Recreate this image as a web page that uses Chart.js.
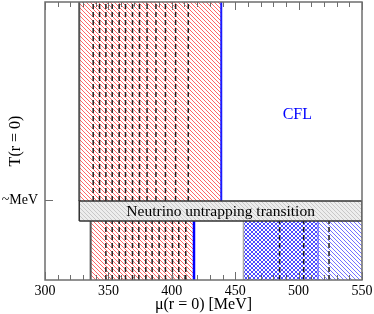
<!DOCTYPE html>
<html>
<head>
<meta charset="utf-8">
<script src="https://cdn.jsdelivr.net/npm/chart.js@4"></script>
<style>
  body { margin: 0; background: #fff; }
  #wrap { width: 374px; height: 314px; }
</style>
</head>
<body>
<div id="wrap"><canvas id="phaseChart" width="374" height="314"></canvas></div>
<script>
// axis ranges
const muRange = [300, 550];
const tRange = [0, 10];
const mevT = 2.88;

// regions (mu in MeV, T in arbitrary units)
const upperRedMu = [327, 439];
const lowerRedMu = [336, 417.5];
const blueCrossMu = [456.5, 515.5];
const blueHatchMu = [515.5, 550];
const untrapMu = [327, 550];
const untrapT = [2.12, 2.84];

// dashed lines
const upperDashMu = [338, 343, 348, 353, 358.5, 363.5, 369, 374.5, 380.5, 387.5, 395, 403, 413];
const lowerDashMu = [348, 353, 358.5, 363.5, 369, 374, 379.5, 384.5, 390, 395, 400.5, 405.5, 411];
const blueDashMu = [485, 504, 524];

// labels
const cflPos = [499, 5.94];
const untrapLabel = 'Neutrino untrapping transition';

const serif = "'Liberation Serif', 'DejaVu Serif', serif";

function hatch(color, bg, size, width, cross){
    const c = document.createElement('canvas');
    c.width = size; c.height = size;
    const g = c.getContext('2d');
    if(bg){ g.fillStyle = bg; g.fillRect(0, 0, size, size); }
    g.strokeStyle = color;
    g.lineWidth = width;
    g.beginPath();
    g.moveTo(-1, -1); g.lineTo(size + 1, size + 1);
    g.moveTo(-1, size - 1); g.lineTo(1, size + 1);
    g.moveTo(size - 1, -1); g.lineTo(size + 1, 1);
    if(cross){
        g.moveTo(size + 1, -1); g.lineTo(-1, size + 1);
        g.moveTo(-1, 1); g.lineTo(1, -1);
        g.moveTo(size - 1, size + 1); g.lineTo(size + 1, size - 1);
    }
    g.stroke();
    return g.createPattern(c, 'repeat');
}

const redHatch = hatch('rgba(255,0,0,0.6)', '#fff', 4, 1, false);
const blueCross = hatch('rgba(0,0,255,0.7)', '#fff', 4, 1, true);
const blueHatch = hatch('rgba(0,0,255,0.55)', '#fff', 4, 1, false);
const greyHatch = hatch('#c8c8c8', '#ededed', 4, 1, false);

function rect(mu, t, bg, order){
    return {
        data: [{x: mu[0], y: t[1]}, {x: mu[1], y: t[1]}],
        fill: {value: t[0]},
        backgroundColor: bg,
        borderWidth: 0,
        pointRadius: 0,
        order: order
    };
}

function vline(mu, t, color, width, dash, order){
    return {
        data: [{x: mu, y: t[0]}, {x: mu, y: t[1]}],
        borderColor: color,
        borderWidth: width,
        borderDash: dash,
        fill: false,
        pointRadius: 0,
        order: order
    };
}

const upperT = [untrapT[1], tRange[1]];
const lowerT = [tRange[0], untrapT[0]];

let datasets = [];

// neutrino untrapping band on top
datasets.push({
    data: [
        {x: untrapMu[0], y: untrapT[0]}, {x: untrapMu[1], y: untrapT[0]},
        {x: untrapMu[1], y: untrapT[1]}, {x: untrapMu[0], y: untrapT[1]},
        {x: untrapMu[0], y: untrapT[0]}
    ],
    fill: 'shape',
    backgroundColor: greyHatch,
    borderColor: '#333',
    borderWidth: 1.5,
    pointRadius: 0,
    order: 0
});

upperDashMu.forEach(m => datasets.push(vline(m, upperT, '#222', 1.5, [5, 3], 1)));
lowerDashMu.forEach(m => datasets.push(vline(m, lowerT, '#222', 1.5, [5, 3], 1)));
blueDashMu.forEach(m => datasets.push(vline(m, lowerT, '#222', 1.5, [5, 3], 1)));

// edges
datasets.push(vline(upperRedMu[0], upperT, '#555', 2, [], 2));
datasets.push(vline(upperRedMu[1], upperT, '#1a1aff', 2, [], 2));
datasets.push(vline(lowerRedMu[0], lowerT, '#555', 2, [], 2));
datasets.push(vline(lowerRedMu[1], lowerT, '#0000ff', 2.5, [], 2));
datasets.push(vline(blueCrossMu[0], lowerT, '#aaa', 1.5, [], 2));
datasets.push(vline(blueCrossMu[1], lowerT, '#8080ff', 1.5, [], 2));

// fills
datasets.push(rect(upperRedMu, upperT, redHatch, 3));
datasets.push(rect(lowerRedMu, lowerT, redHatch, 3));
datasets.push(rect(blueCrossMu, lowerT, blueCross, 3));
datasets.push(rect(blueHatchMu, lowerT, blueHatch, 3));

const decor = {
    id: 'decor',
    afterDatasetsDraw(chart){
        const {ctx, chartArea: a, scales: {x, y}} = chart;
        ctx.save();
        // frame
        ctx.strokeStyle = '#6e6e6e';
        ctx.lineWidth = 1.5;
        ctx.strokeRect(a.left, a.top, a.right - a.left, a.bottom - a.top);
        // inward ticks, top and bottom
        ctx.lineWidth = 1;
        ctx.beginPath();
        for(let m = muRange[0]; m <= muRange[1]; m += 10){
            let px = Math.round(x.getPixelForValue(m)) + 0.5;
            let len = (m % 50 === 0) ? 8 : 5;
            ctx.moveTo(px, a.bottom); ctx.lineTo(px, a.bottom - len);
            ctx.moveTo(px, a.top); ctx.lineTo(px, a.top + len);
        }
        let py = Math.round(y.getPixelForValue(mevT)) + 0.5;
        ctx.moveTo(a.left, py); ctx.lineTo(a.left + 8, py);
        ctx.stroke();
        // labels
        ctx.textAlign = 'center';
        ctx.textBaseline = 'middle';
        ctx.fillStyle = '#0000ff';
        ctx.font = '16px ' + serif;
        ctx.fillText('CFL', x.getPixelForValue(cflPos[0]), y.getPixelForValue(cflPos[1]));
        ctx.fillStyle = '#000';
        ctx.font = '15.5px ' + serif;
        ctx.fillText(untrapLabel,
            x.getPixelForValue((untrapMu[0] + untrapMu[1]) / 2),
            y.getPixelForValue((untrapT[0] + untrapT[1]) / 2) + 1);
        ctx.restore();
    }
};

new Chart(document.getElementById('phaseChart').getContext('2d'), {
    type: 'line',
    data: {datasets: datasets},
    options: {
        responsive: false,
        animation: false,
        events: [],
        devicePixelRatio: 1,
        layout: {padding: {top: 2, right: 12, left: 0, bottom: 0}},
        plugins: {legend: {display: false}, tooltip: {enabled: false}},
        scales: {
            x: {
                type: 'linear',
                min: muRange[0], max: muRange[1],
                grid: {display: false, drawTicks: false},
                border: {display: false},
                ticks: {stepSize: 50, padding: 3, color: '#000', font: {family: serif, size: 14}},
                title: {display: true, text: 'μ(r = 0) [MeV]', color: '#000', font: {family: serif, size: 16}, padding: {top: 0, bottom: 0}},
                afterFit: s => { s.height = 34; s.paddingLeft = 0; s.paddingRight = 0; }
            },
            y: {
                type: 'linear',
                min: tRange[0], max: tRange[1],
                grid: {display: false, drawTicks: false},
                border: {display: false},
                afterBuildTicks: s => { s.ticks = [{value: mevT}]; },
                ticks: {padding: 7, color: '#000', font: {family: serif, size: 14}, callback: () => '~MeV'},
                title: {display: true, text: 'T(r = 0)', color: '#000', font: {family: serif, size: 16}, padding: {top: 6, bottom: 0}},
                afterFit: s => { s.width = 45; s.paddingTop = 0; s.paddingBottom = 0; }
            }
        }
    },
    plugins: [decor]
});
</script>
</body>
</html>
